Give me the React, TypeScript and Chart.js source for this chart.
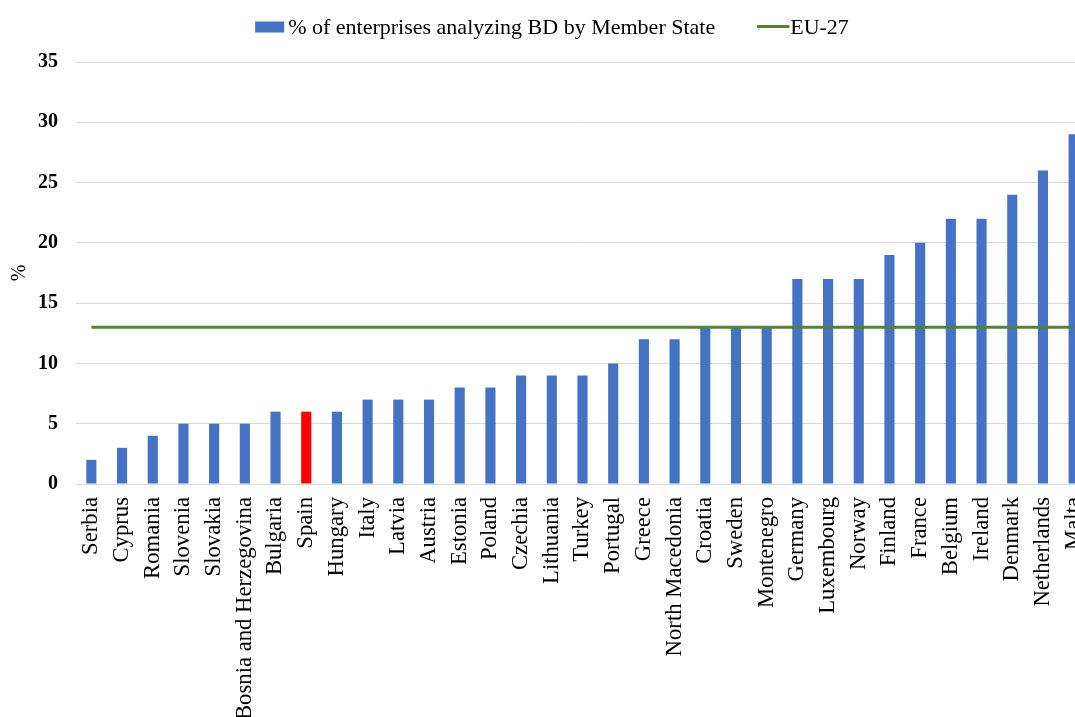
import React, { useEffect, useRef } from "react";
import { Chart, registerables } from "chart.js";

Chart.register(...registerables);

const countries = [
  "Serbia", "Cyprus", "Romania", "Slovenia", "Slovakia", "Bosnia and Herzegovina",
  "Bulgaria", "Spain", "Hungary", "Italy", "Latvia", "Austria", "Estonia", "Poland",
  "Czechia", "Lithuania", "Turkey", "Portugal", "Greece", "North Macedonia", "Croatia",
  "Sweden", "Montenegro", "Germany", "Luxembourg", "Norway", "Finland", "France",
  "Belgium", "Ireland", "Denmark", "Netherlands", "Malta",
];

const shareAnalyzingBD = [
  2, 3, 4, 5, 5, 5, 6, 6, 6, 7, 7, 7, 8, 8, 9, 9, 9, 10, 12, 12, 13, 13, 13,
  17, 17, 17, 19, 20, 22, 22, 24, 26, 29,
];

const eu27Average = 13;
const eu27Line = countries.map(() => eu27Average);

const highlighted = "Spain";

const yTicks = [0, 5, 10, 15, 20, 25, 30, 35];

const BLUE = "#4472C4";
const RED = "#FF0000";
const GREEN = "#548235";
const FONT = "'Liberation Serif', 'Times New Roman', serif";

// Legend drawn across the top band: filled box for bars, short stroke for lines.
const topLegend = {
  id: "topLegend",
  afterDraw(chart: any) {
    const { ctx } = chart;
    ctx.save();
    ctx.font = `22px ${FONT}`;
    ctx.textBaseline = "middle";
    const y = 27;
    const swatch = 29;
    const textGap = 4;
    const itemGap = 42;
    const items = chart.data.datasets.map((ds: any) => ({
      text: ds.label as string,
      isLine: ds.type === "line",
      color: ds.type === "line" ? ds.borderColor : BLUE,
      width: swatch + textGap + ctx.measureText(ds.label).width,
    }));
    const total =
      items.reduce((s: number, it: any) => s + it.width, 0) + itemGap * (items.length - 1);
    let x = 552 - total / 2;
    for (const it of items) {
      if (it.isLine) {
        ctx.strokeStyle = it.color;
        ctx.lineWidth = 3;
        ctx.lineCap = "round";
        ctx.beginPath();
        ctx.moveTo(x + 1, y - 0.5);
        ctx.lineTo(x + swatch + 2, y - 0.5);
        ctx.stroke();
      } else {
        ctx.fillStyle = it.color;
        ctx.fillRect(x, y - 5.5, swatch, 11);
      }
      ctx.fillStyle = "#000";
      ctx.fillText(it.text, x + swatch + textGap, y + 1);
      x += it.width + itemGap;
    }
    ctx.restore();
  },
};

export default function App() {
  const canvasRef = useRef<HTMLCanvasElement | null>(null);

  useEffect(() => {
    const canvas = canvasRef.current;
    if (!canvas) return;
    const chart = new Chart(canvas, {
      type: "bar",
      data: {
        labels: countries,
        datasets: [
          {
            type: "bar" as const,
            label: "% of enterprises analyzing BD by Member State",
            data: shareAnalyzingBD,
            backgroundColor: countries.map((c) => (c === highlighted ? RED : BLUE)),
            barPercentage: 0.33,
            categoryPercentage: 1,
            order: 1,
          },
          {
            type: "line" as const,
            label: "EU-27",
            data: eu27Line,
            borderColor: GREEN,
            borderWidth: 3,
            pointRadius: 0,
            fill: false,
            order: 0,
          },
        ],
      },
      options: {
        responsive: false,
        animation: false,
        layout: { padding: { top: 62, right: 6, left: 0, bottom: 0 } },
        plugins: {
          legend: { display: false },
          tooltip: { enabled: false },
        },
        scales: {
          x: {
            grid: { display: false, drawTicks: false },
            border: { display: false },
            ticks: {
              autoSkip: false,
              minRotation: 90,
              maxRotation: 90,
              padding: 13,
              color: "#000",
              font: { family: FONT, size: 22.7 },
            },
            afterFit(scale: any) {
              scale.height = 233;
              scale.paddingLeft = 0;
              scale.paddingRight = 0;
            },
          },
          y: {
            min: 0,
            max: 35,
            afterBuildTicks(scale: any) {
              scale.ticks = yTicks.map((v) => ({ value: v }));
            },
            grid: { color: "#D9D9D9", lineWidth: 1, drawTicks: false },
            border: { display: false },
            ticks: {
              padding: 18,
              color: "#000",
              font: { family: FONT, size: 20, weight: "bold" },
            },
            title: {
              display: true,
              text: "%",
              color: "#000",
              font: { family: FONT, size: 20 },
              padding: { top: 8, bottom: 0 },
            },
            afterFit(scale: any) {
              scale.width = 76;
            },
          },
        },
      },
      plugins: [topLegend],
    });
    return () => chart.destroy();
  }, []);

  return (
    <div
      style={{
        position: "fixed",
        left: 0,
        top: 0,
        width: 1075,
        height: 717,
        overflow: "hidden",
        background: "#fff",
      }}
    >
      <canvas ref={canvasRef} width={1095} height={717} style={{ display: "block" }} />
    </div>
  );
}
